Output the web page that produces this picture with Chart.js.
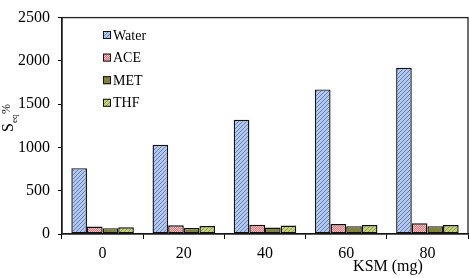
<!DOCTYPE html>
<html>
<head>
<meta charset="utf-8">
<script src="https://cdn.jsdelivr.net/npm/chart.js@4.4.1/dist/chart.umd.min.js"></script>
<style>
  html, body { margin: 0; padding: 0; background: #fff; }
  #wrap { width: 470px; height: 278px; position: relative; }
</style>
</head>
<body>
<div id="wrap"><canvas id="chart"></canvas></div>
<script>
// ── Data ───────────────────────────────────────────────────
const categories = ['0', '20', '40', '60', '80'];
const seriesNames = ['Water', 'ACE', 'MET', 'THF'];
const water = [760, 1030, 1320, 1670, 1920];
const ace   = [86, 100, 108, 115, 123];
const met   = [67, 70, 75, 90, 90];
const thf   = [78, 92, 97, 104, 104];
const yTicks = [0, 500, 1000, 1500, 2000, 2500];

const FONT = '"Liberation Serif", "Times New Roman", serif';

// ── Fill patterns ──────────────────────────────────────────
function makePattern(bg, fg, kind) {
  const c = document.createElement('canvas');
  c.width = 4; c.height = 4;
  const g = c.getContext('2d');
  g.fillStyle = bg;
  g.fillRect(0, 0, 4, 4);
  g.fillStyle = fg;
  if (kind === 'diag') {
    for (let i = 0; i < 4; i++) g.fillRect(i, 3 - i, 1, 1);
  } else if (kind === 'check') {
    g.fillRect(0, 0, 1, 1); g.fillRect(2, 0, 1, 1);
    g.fillRect(1, 1, 1, 1); g.fillRect(3, 1, 1, 1);
    g.fillRect(0, 2, 1, 1); g.fillRect(2, 2, 1, 1);
    g.fillRect(1, 3, 1, 1); g.fillRect(3, 3, 1, 1);
  } else if (kind === 'dots') {
    g.fillRect(0, 0, 1, 1); g.fillRect(2, 2, 1, 1);
  }
  return g.createPattern(c, 'repeat');
}

const fills = [
  makePattern('#b3c8ea', '#5f7fbc', 'diag'),
  makePattern('#d7767a', '#f2c4c4', 'check'),
  makePattern('#85853f', '#727234', 'dots'),
  makePattern('#c4d07e', '#8e9e44', 'diag'),
];
const seriesData = [water, ace, met, thf];

// ── Custom drawing: frame, legend, axis titles ─────────────
const decor = {
  id: 'decor',
  afterDatasetsDraw(chart) {
    const { ctx, chartArea: a } = chart;
    ctx.save();
    ctx.strokeStyle = '#222';
    ctx.lineWidth = 1.3;
    ctx.strokeRect(a.left, a.top, a.right - a.left, a.bottom - a.top);

    // legend
    ctx.font = '14px ' + FONT;
    ctx.textBaseline = 'middle';
    ctx.textAlign = 'left';
    chart.data.datasets.forEach((ds, i) => {
      const y = 35 + i * 22.6;
      ctx.fillStyle = ds.backgroundColor;
      ctx.fillRect(103, y - 4, 8, 8);
      ctx.strokeStyle = '#111';
      ctx.lineWidth = 1;
      ctx.strokeRect(103.5, y - 3.5, 7, 7);
      ctx.fillStyle = '#000';
      ctx.fillText(ds.label, 113, y + 1);
    });

    // x title
    ctx.font = '16px ' + FONT;
    ctx.textAlign = 'center';
    ctx.fillText('KSM (mg)', 388, 267);

    // y title: S_eq %
    ctx.translate(13, 118);
    ctx.rotate(-Math.PI / 2);
    ctx.textAlign = 'left';
    ctx.textBaseline = 'alphabetic';
    ctx.font = '16px ' + FONT;
    ctx.fillText('S', -14, 0);
    ctx.font = '9px ' + FONT;
    ctx.fillText('eq', -5, 4);
    ctx.font = '12px ' + FONT;
    ctx.fillText('%', 4, -3);
    ctx.restore();
  }
};

new Chart(document.getElementById('chart'), {
  type: 'bar',
  data: {
    labels: categories,
    datasets: seriesNames.map((name, i) => ({
      label: name,
      data: seriesData[i],
      backgroundColor: fills[i],
      borderColor: '#111',
      borderWidth: 1.4,
      borderSkipped: false,
      barPercentage: 1,
      categoryPercentage: 0.77,
    })),
  },
  options: {
    responsive: true,
    maintainAspectRatio: false,
    animation: false,
    layout: { padding: { top: 9, right: 2, left: 0, bottom: 0 } },
    plugins: {
      legend: { display: false },
      tooltip: { enabled: false },
    },
    scales: {
      x: {
        afterFit: s => { s.height = 44; },
        grid: { drawOnChartArea: false, tickLength: 5, color: '#000', offset: true },
        border: { color: '#000', width: 1.3 },
        ticks: { color: '#000', font: { family: FONT, size: 16 }, padding: 5 },
      },
      y: {
        min: 0,
        max: 2500,
        afterFit: s => { s.width = 62; },
        afterBuildTicks: s => { s.ticks = yTicks.map(v => ({ value: v })); },
        grid: { drawOnChartArea: false, tickLength: 4, color: '#000' },
        border: { color: '#000', width: 1.3 },
        ticks: {
          color: '#000',
          font: { family: FONT, size: 16 },
          padding: 8,
          callback: v => String(v),
        },
      },
    },
  },
  plugins: [decor],
});
</script>
</body>
</html>
